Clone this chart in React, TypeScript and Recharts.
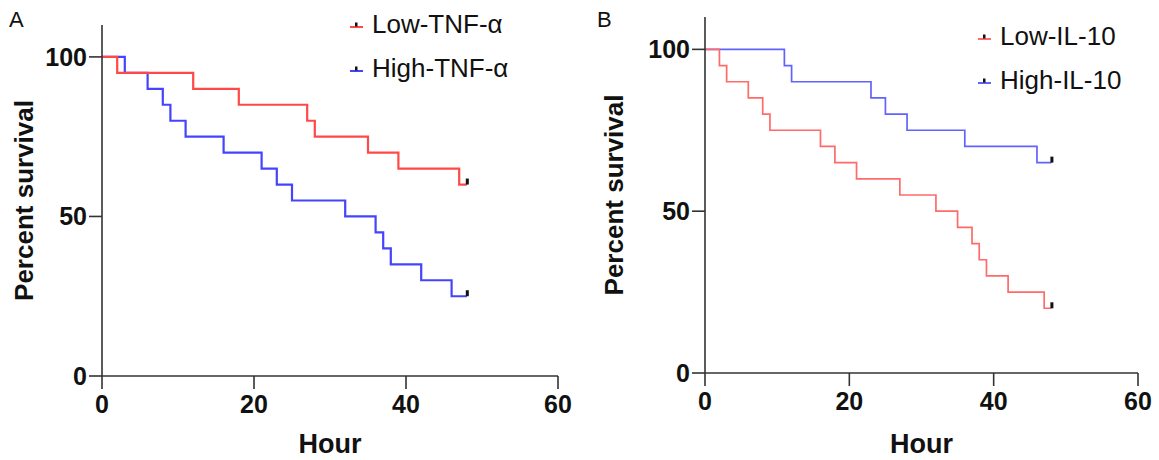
import React from "react";
import { Legend, Line, LineChart, XAxis, YAxis } from "recharts";

// Kaplan-Meier style survival curves, two panels (TNF-α and IL-10).

const X_TICKS = [0, 20, 40, 60];
const Y_TICKS = [0, 50, 100];

// Panel A
const LOW_TNF_HOURS = [0, 2, 12, 18, 27, 28, 35, 39, 47, 48];
const LOW_TNF_PCT = [100, 95, 90, 85, 80, 75, 70, 65, 60, 60];
const HIGH_TNF_HOURS = [0, 3, 6, 8, 9, 11, 16, 21, 23, 25, 32, 36, 37, 38, 42, 46, 48];
const HIGH_TNF_PCT = [100, 95, 90, 85, 80, 75, 70, 65, 60, 55, 50, 45, 40, 35, 30, 25, 25];

// Panel B
const LOW_IL10_HOURS = [0, 2, 3, 6, 8, 9, 16, 18, 21, 27, 32, 35, 37, 38, 39, 42, 47, 48];
const LOW_IL10_PCT = [100, 95, 90, 85, 80, 75, 70, 65, 60, 55, 50, 45, 40, 35, 30, 25, 20, 20];
const HIGH_IL10_HOURS = [0, 11, 12, 23, 25, 28, 36, 46, 48];
const HIGH_IL10_PCT = [100, 95, 90, 85, 80, 75, 70, 65, 65];

const FONT = "'Liberation Sans', Arial, Helvetica, sans-serif";
const AXIS = "#333";
const INK = "#111";

const toPoints = (hours: number[], pct: number[]) =>
  hours.map((h, i) => ({ h, pct: pct[i] }));

// censored tick on the last point only
const censorDot = (len: number) => (props: any) => {
  const { cx, cy, index } = props;
  if (index !== len - 1) return <g key={`d${index}`} />;
  return <rect key={`d${index}`} x={cx - 1} y={cy - 6} width={3} height={6} fill={INK} />;
};

const LegendBox = ({ payload }: any) => {
  const items = (payload || []).slice().reverse();
  return (
    <div style={{ fontFamily: FONT, fontSize: 26, color: INK, lineHeight: "44px" }}>
      {items.map((it: any) => (
        <div key={it.value} style={{ display: "flex", alignItems: "center", whiteSpace: "nowrap" }}>
          <svg width={20} height={14} style={{ marginRight: 4 }}>
            <line x1={2} x2={15} y1={10} y2={10} stroke={it.color} strokeWidth={2} />
            <rect x={7} y={5.5} width={2.5} height={4} fill={INK} />
          </svg>
          <span>{it.value}</span>
        </div>
      ))}
    </div>
  );
};

interface PanelProps {
  low: { h: number; pct: number }[];
  high: { h: number; pct: number }[];
  lowName: string;
  highName: string;
  lowColor: string;
  highColor: string;
  strokeWidth: number;
  width: number;
  yAxisWidth: number;
  top: number;
  right: number;
  xAxisHeight: number;
  legendLeft: number;
  legendTop: number;
}

function SurvivalPanel(p: PanelProps) {
  return (
    <LineChart
      width={p.width}
      height={460}
      margin={{ top: p.top, right: p.right, left: 0, bottom: 0 }}
    >
      <XAxis
        type="number"
        dataKey="h"
        domain={[0, 60]}
        ticks={X_TICKS}
        stroke={AXIS}
        strokeWidth={1.6}
        tickSize={13}
        tickMargin={6}
        height={p.xAxisHeight}
        tick={{ fill: INK, fontSize: 25, fontWeight: 700, fontFamily: FONT }}
        label={{
          value: "Hour",
          position: "insideBottom",
          offset: 7,
          style: { fill: INK, fontSize: 27, fontWeight: 700, fontFamily: FONT },
        }}
      />
      <YAxis
        type="number"
        domain={[0, 110]}
        ticks={Y_TICKS}
        stroke={AXIS}
        strokeWidth={1.6}
        tickSize={13}
        tickMargin={2}
        width={p.yAxisWidth}
        tick={{ fill: INK, fontSize: 25, fontWeight: 700, fontFamily: FONT }}
        label={{
          value: "Percent survival",
          angle: -90,
          position: "insideLeft",
          offset: 24,
          style: { textAnchor: "middle", fill: INK, fontSize: 26, fontWeight: 700, fontFamily: FONT },
        }}
      />
      <Legend
        layout="vertical"
        align="center"
        verticalAlign="middle"
        content={<LegendBox />}
        wrapperStyle={{ left: p.legendLeft, top: p.legendTop, width: "auto" }}
      />
      <Line
        data={p.high}
        dataKey="pct"
        name={p.highName}
        type="stepAfter"
        stroke={p.highColor}
        strokeWidth={p.strokeWidth}
        dot={censorDot(p.high.length)}
        activeDot={false}
        isAnimationActive={false}
      />
      <Line
        data={p.low}
        dataKey="pct"
        name={p.lowName}
        type="stepAfter"
        stroke={p.lowColor}
        strokeWidth={p.strokeWidth}
        dot={censorDot(p.low.length)}
        activeDot={false}
        isAnimationActive={false}
      />
    </LineChart>
  );
}

export default function App() {
  return (
    <div
      style={{
        position: "absolute",
        left: 0,
        top: 0,
        width: 1159,
        height: 460,
        background: "#fff",
        fontFamily: FONT,
      }}
    >
      <div style={{ position: "absolute", left: 9, top: 9, fontSize: 22, lineHeight: "22px", color: INK }}>A</div>
      <div style={{ position: "absolute", left: 597, top: 9, fontSize: 22, lineHeight: "22px", color: INK }}>B</div>

      <div style={{ position: "absolute", left: 0, top: 0 }}>
        <SurvivalPanel
          low={toPoints(LOW_TNF_HOURS, LOW_TNF_PCT)}
          high={toPoints(HIGH_TNF_HOURS, HIGH_TNF_PCT)}
          lowName="Low-TNF-α"
          highName="High-TNF-α"
          lowColor="#ff4848"
          highColor="#4444ff"
          strokeWidth={2.2}
          width={580}
          yAxisWidth={102}
          top={25}
          right={22}
          xAxisHeight={84}
          legendLeft={348}
          legendTop={2}
        />
      </div>

      <div style={{ position: "absolute", left: 590, top: 0 }}>
        <SurvivalPanel
          low={toPoints(LOW_IL10_HOURS, LOW_IL10_PCT)}
          high={toPoints(HIGH_IL10_HOURS, HIGH_IL10_PCT)}
          lowName="Low-IL-10"
          highName="High-IL-10"
          lowColor="#ff6a6a"
          highColor="#6262ff"
          strokeWidth={1.7}
          width={569}
          yAxisWidth={115}
          top={17}
          right={21}
          xAxisHeight={87}
          legendLeft={386}
          legendTop={14}
        />
      </div>
    </div>
  );
}
